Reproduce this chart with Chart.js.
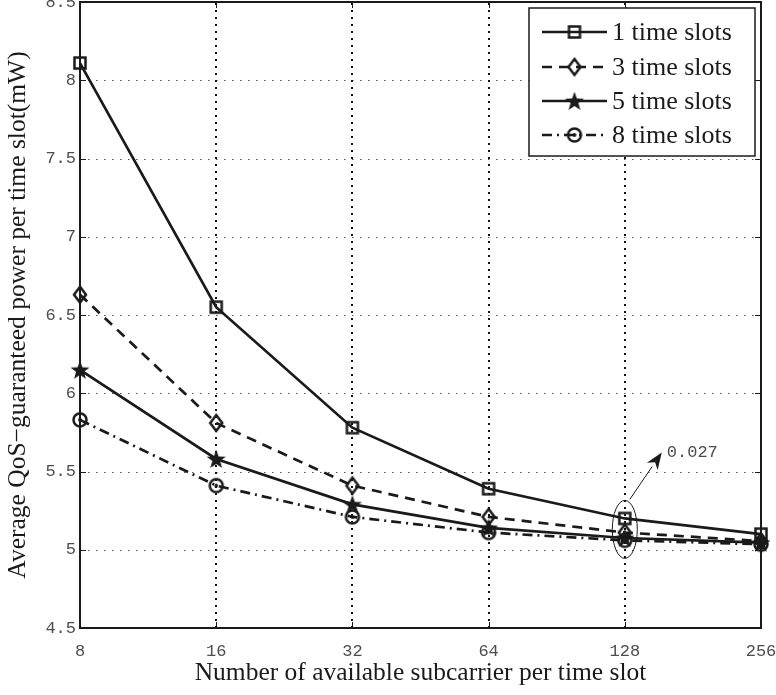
<!DOCTYPE html>
<html>
<head>
<meta charset="utf-8">
<title>Average QoS-guaranteed power per time slot</title>
<script src="https://cdn.jsdelivr.net/npm/chart.js@4/dist/chart.umd.min.js"></script>
<style>
  html, body { margin: 0; padding: 0; background: #fff; }
  canvas { display: block; }
</style>
</head>
<body>
<canvas id="chart" width="776" height="695"></canvas>
<script>
// Subcarriers available per time slot (x categories, log2 spaced)
const subcarriers = ['8', '16', '32', '64', '128', '256'];

// Average QoS-guaranteed power per time slot (mW)
const power1Slot = [8.11, 6.55, 5.78, 5.39, 5.20, 5.10];
const power3Slots = [6.63, 5.81, 5.41, 5.21, 5.11, 5.055];
const power5Slots = [6.15, 5.58, 5.29, 5.14, 5.075, 5.045];
const power8Slots = [5.83, 5.41, 5.21, 5.11, 5.06, 5.035];

const seriesNames = ['1 time slots', '3 time slots', '5 time slots', '8 time slots'];

// y axis range and tick step
const yMin = 4.5;
const yMax = 8.5;
const yStep = 0.5;

// highlighted gap at 128 subcarriers
const gapCategory = '128';
const gapCenterValue = 5.13;
const gapLabel = '0.027';

const INK = '#1a1a1a';
const TICK_GRAY = '#4d4d4d';
const MONO = '"Liberation Mono", "DejaVu Sans Mono", monospace';
const SERIF = '"Liberation Serif", "DejaVu Serif", serif';

// ---- marker images ----
function markerCanvas(kind) {
  const s = 24;
  const c = document.createElement('canvas');
  c.width = s; c.height = s;
  const g = c.getContext('2d');
  const m = s / 2;
  g.strokeStyle = INK;
  g.fillStyle = INK;
  g.lineWidth = 2.5;
  if (kind === 'square') {
    g.strokeRect(m - 5.5, m - 5.5, 11, 11);
  } else if (kind === 'diamond') {
    g.beginPath();
    g.moveTo(m, m - 8);
    g.lineTo(m + 6, m);
    g.lineTo(m, m + 8);
    g.lineTo(m - 6, m);
    g.closePath();
    g.stroke();
  } else if (kind === 'star') {
    const ro = 10, ri = 4.1;
    g.beginPath();
    for (let i = 0; i < 10; i++) {
      const r = i % 2 === 0 ? ro : ri;
      const a = -Math.PI / 2 + i * Math.PI / 5;
      const px = m + r * Math.cos(a), py = m + 0.8 + r * Math.sin(a);
      if (i === 0) g.moveTo(px, py); else g.lineTo(px, py);
    }
    g.closePath();
    g.fill();
  } else if (kind === 'circle') {
    g.lineWidth = 2.5;
    g.beginPath();
    g.arc(m, m, 6.5, 0, Math.PI * 2);
    g.stroke();
    g.beginPath();
    g.arc(m, m, 1.9, 0, Math.PI * 2);
    g.fill();
  }
  return c;
}

const markers = {
  square: markerCanvas('square'),
  diamond: markerCanvas('diamond'),
  star: markerCanvas('star'),
  circle: markerCanvas('circle')
};

function series(label, data, dash, marker) {
  return {
    label: label,
    data: data,
    borderColor: INK,
    backgroundColor: INK,
    borderWidth: 2.7,
    borderDash: dash,
    pointStyle: markers[marker],
    pointRadius: 8,
    pointHoverRadius: 8,
    tension: 0,
    fill: false,
    clip: false
  };
}

// ---- grid, frame and inward ticks ----
const framePlugin = {
  id: 'frame',
  beforeDatasetsDraw(chart) {
    const { ctx, chartArea: a, scales: { x, y } } = chart;
    ctx.save();
    // horizontal dotted grid
    ctx.strokeStyle = '#555';
    ctx.lineWidth = 1;
    ctx.setLineDash([1.5, 6.5]);
    for (let v = yMin + yStep; v < yMax - 1e-9; v += yStep) {
      const py = Math.round(y.getPixelForValue(v)) + 0.5;
      ctx.beginPath();
      ctx.moveTo(a.left, py);
      ctx.lineTo(a.right, py);
      ctx.stroke();
    }
    // vertical dotted grid
    ctx.strokeStyle = '#111';
    ctx.lineWidth = 2;
    ctx.setLineDash([2, 5]);
    for (let i = 1; i < subcarriers.length - 1; i++) {
      const px = Math.round(x.getPixelForValue(i));
      ctx.beginPath();
      ctx.moveTo(px, a.bottom);
      ctx.lineTo(px, a.top);
      ctx.stroke();
    }
    ctx.setLineDash([]);
    // inward tick marks on all sides
    ctx.strokeStyle = INK;
    ctx.lineWidth = 1;
    const tl = 6;
    for (let i = 1; i < subcarriers.length - 1; i++) {
      const px = Math.round(x.getPixelForValue(i)) + 0.5;
      ctx.beginPath();
      ctx.moveTo(px, a.bottom); ctx.lineTo(px, a.bottom - tl);
      ctx.moveTo(px, a.top); ctx.lineTo(px, a.top + tl);
      ctx.stroke();
    }
    for (let v = yMin + yStep; v < yMax - 1e-9; v += yStep) {
      const py = Math.round(y.getPixelForValue(v)) + 0.5;
      ctx.beginPath();
      ctx.moveTo(a.left, py); ctx.lineTo(a.left + tl, py);
      ctx.moveTo(a.right, py); ctx.lineTo(a.right - tl, py);
      ctx.stroke();
    }
    // axes box
    ctx.lineWidth = 2;
    ctx.strokeRect(a.left, a.top, a.right - a.left, a.bottom - a.top);
    ctx.restore();
  }
};

// ---- ellipse, arrow and gap label around 128 ----
const gapPlugin = {
  id: 'gapNote',
  afterDatasetsDraw(chart) {
    const { ctx, scales: { x, y } } = chart;
    const cx = x.getPixelForValue(subcarriers.indexOf(gapCategory));
    const cy = y.getPixelForValue(gapCenterValue);
    ctx.save();
    ctx.strokeStyle = INK;
    ctx.lineWidth = 1;
    ctx.beginPath();
    ctx.ellipse(cx, cy, 12.5, 29, 0, 0, Math.PI * 2);
    ctx.stroke();
    // arrow
    const x0 = cx + 5, y0 = cy - 30;
    const x1 = cx + 37, y1 = cy - 77;
    const ang = Math.atan2(y1 - y0, x1 - x0);
    const hl = 17, hw = 6.5;
    const bx = x1 - hl * Math.cos(ang), by = y1 - hl * Math.sin(ang);
    ctx.beginPath();
    ctx.moveTo(x0, y0);
    ctx.lineTo(bx, by);
    ctx.stroke();
    ctx.fillStyle = INK;
    ctx.beginPath();
    ctx.moveTo(x1, y1);
    ctx.lineTo(bx + hw * Math.sin(ang), by - hw * Math.cos(ang));
    ctx.lineTo(bx + 0.3 * hl * Math.cos(ang), by + 0.3 * hl * Math.sin(ang));
    ctx.lineTo(bx - hw * Math.sin(ang), by + hw * Math.cos(ang));
    ctx.closePath();
    ctx.fill();
    // label
    ctx.fillStyle = TICK_GRAY;
    ctx.font = '17px ' + MONO;
    ctx.textAlign = 'left';
    ctx.textBaseline = 'middle';
    ctx.fillText(gapLabel, x1 + 5, y1);
    ctx.restore();
  }
};

// ---- legend box with line + marker samples ----
const legendPlugin = {
  id: 'lineLegend',
  afterDatasetsDraw(chart) {
    const { ctx, chartArea: a } = chart;
    const boxR = a.right - 6, boxT = a.top + 6;
    const boxW = 226, boxH = 148;
    const boxL = boxR - boxW;
    ctx.save();
    ctx.fillStyle = '#fff';
    ctx.fillRect(boxL, boxT, boxW, boxH);
    ctx.strokeStyle = INK;
    ctx.lineWidth = 1.5;
    ctx.strokeRect(boxL, boxT, boxW, boxH);
    const rows = [24, 59, 93, 127];
    chart.data.datasets.forEach((ds, i) => {
      const ry = boxT + rows[i];
      const lx0 = boxL + 13, lx1 = boxL + 78;
      ctx.strokeStyle = ds.borderColor;
      ctx.lineWidth = ds.borderWidth;
      ctx.setLineDash(ds.borderDash || []);
      ctx.beginPath();
      ctx.moveTo(lx0, ry);
      ctx.lineTo(lx1, ry);
      ctx.stroke();
      ctx.setLineDash([]);
      const img = ds.pointStyle;
      ctx.drawImage(img, (lx0 + lx1) / 2 - img.width / 2, ry - img.height / 2);
      ctx.fillStyle = INK;
      ctx.font = '26px ' + SERIF;
      ctx.textAlign = 'left';
      ctx.textBaseline = 'middle';
      ctx.fillText(ds.label, boxL + 83, ry + 1);
    });
    ctx.restore();
  }
};

new Chart(document.getElementById('chart'), {
  type: 'line',
  data: {
    labels: subcarriers,
    datasets: [
      series(seriesNames[0], power1Slot, [], 'square'),
      series(seriesNames[1], power3Slots, [10, 7], 'diamond'),
      series(seriesNames[2], power5Slots, [], 'star'),
      series(seriesNames[3], power8Slots, [10, 5, 2, 5], 'circle')
    ]
  },
  options: {
    responsive: false,
    animation: false,
    devicePixelRatio: 1,
    layout: { autoPadding: false, padding: { top: 2, right: 15, left: 0, bottom: 0 } },
    plugins: {
      legend: { display: false },
      tooltip: { enabled: false },
      title: { display: false }
    },
    scales: {
      x: {
        type: 'category',
        offset: false,
        grid: { display: false, drawTicks: false },
        border: { display: false },
        ticks: {
          autoSkip: false,
          maxRotation: 0,
          padding: 13,
          color: TICK_GRAY,
          font: { family: MONO, size: 17 }
        },
        title: {
          display: true,
          text: 'Number of available subcarrier per time slot',
          color: INK,
          font: { family: SERIF, size: 25.5 },
          padding: { top: 0, bottom: 6 }
        },
        afterFit(scale) {
          scale.height = 67;
          scale.paddingLeft = 0;
          scale.paddingRight = 0;
        }
      },
      y: {
        type: 'linear',
        min: yMin,
        max: yMax,
        grid: { display: false, drawTicks: false },
        border: { display: false },
        ticks: {
          stepSize: yStep,
          padding: 4,
          color: TICK_GRAY,
          font: { family: MONO, size: 17 },
          callback: (v) => String(Number(v.toFixed(1)))
        },
        title: {
          display: true,
          text: 'Average QoS\u2212guaranteed power per time slot(mW)',
          color: INK,
          font: { family: SERIF, size: 25.5 },
          padding: { top: 3, bottom: 0 }
        },
        afterFit(scale) {
          scale.width = 80;
          scale.paddingTop = 0;
          scale.paddingBottom = 0;
        }
      }
    }
  },
  plugins: [framePlugin, gapPlugin, legendPlugin]
});
</script>
</body>
</html>
